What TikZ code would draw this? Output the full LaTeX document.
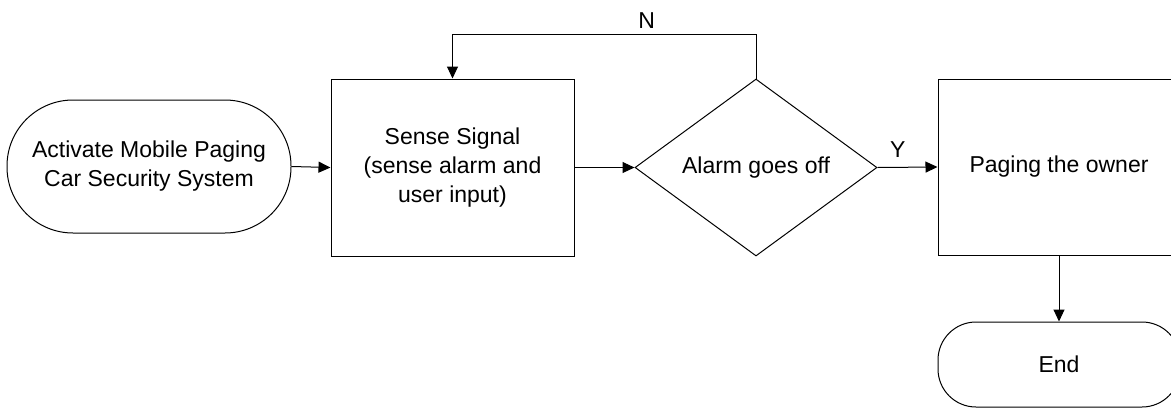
\documentclass[tikz,border=0pt]{standalone}
\usepackage{fontspec}
\setmainfont{Liberation Sans}
\usetikzlibrary{shapes.geometric,arrows.meta}
\begin{document}
\begin{tikzpicture}[x=1pt,y=-1pt,
  every node/.style={font=\fontsize{23}{29}\selectfont, align=center},
  box/.style={draw, line width=1pt, rectangle, inner sep=0pt},
  terminal/.style={draw, line width=1pt, rectangle, inner sep=0pt},
  decision/.style={draw, line width=1pt, diamond, inner sep=0pt, aspect=1.37},
  flow/.style={line width=1pt, -{Triangle[length=12pt,width=11pt]}},
  lbl/.style={inner sep=0pt}
]
\useasboundingbox (0,0) rectangle (1171,408);
\clip (0,0) rectangle (1171,408);

% flow nodes
\node[terminal, rounded corners=66pt, minimum width=284pt, minimum height=133pt]
  (start) at (149,166.5) {Activate Mobile Paging\\Car Security System};
\node[box, minimum width=243pt, minimum height=177pt]
  (sense) at (452.5,167.5) {Sense Signal\\(sense alarm and\\user input)};
\node[decision, minimum width=242pt, minimum height=177pt]
  (dec) at (756,167.5) {Alarm goes off};
\node[box, minimum width=242pt, minimum height=176pt]
  (page) at (1059,167) {Paging the owner};
\node[terminal, rounded corners=38pt, minimum width=242pt, minimum height=85pt]
  (end) at (1059,364.5) {End};

% connectors
\draw[flow] (start.east) -- (sense.west);
\draw[flow] (sense.east) -- (dec.west);
\draw[flow] (dec.east) -- node[lbl, pos=0.34, above=9pt] {Y} (page.west);
\draw[flow] (page.south) -- (end.north);
\draw[flow] (dec.north) -- ++(0,-44) -| node[lbl, pos=0.18, above=6pt] {N} (sense.north);
\end{tikzpicture}
\end{document}
